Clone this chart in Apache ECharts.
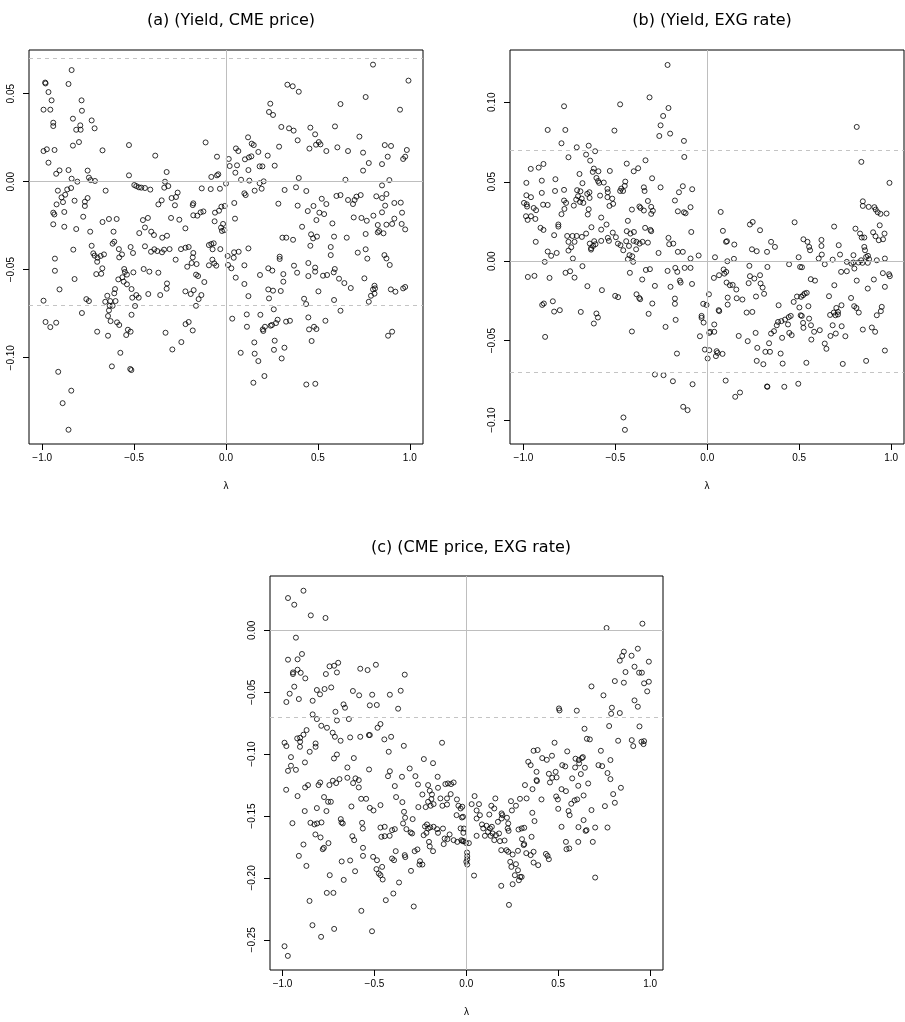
<!DOCTYPE html>
<html>
<head>
<meta charset="utf-8">
<script src="https://cdn.jsdelivr.net/npm/echarts@6/dist/echarts.min.js"></script>
<style>
  html, body { margin: 0; padding: 0; background: #fff; }
  #main { width: 905px; height: 1022px; }
</style>
</head>
<body>
<div id="main"></div>
<script>
// titles of the three panels
var panelTitles = ["(a) (Yield, CME price)", "(b) (Yield, EXG rate)", "(c) (CME price, EXG rate)"];

// tick labels
var xTicks = [-1, -0.5, 0, 0.5, 1];
var yTicksA = [-0.10, -0.05, 0, 0.05];
var yTicksB = [-0.10, -0.05, 0, 0.05, 0.10];
var yTicksC = [-0.25, -0.20, -0.15, -0.10, -0.05, 0];

// dashed reference levels
var bandUpper = 0.0725;
var bandLower = -0.0725;

// (a) lambda vs value
var pointsA = [
[-0.840,0.0634],[-0.984,0.0563],[-0.982,0.0558],[-0.857,0.0555],[-0.966,0.0509],[-0.949,0.0462],[-0.786,0.0462],[-0.993,0.0409],[-0.956,0.0409],[-0.784,0.0403],[-0.940,0.0335],[-0.940,0.0316],[-0.833,0.0358],[-0.793,0.0320],[-0.815,0.0295],[-0.791,0.0295],[-0.731,0.0348],[-0.715,0.0303],[-0.833,0.0205],[-0.800,0.0225],[-0.993,0.0174],[-0.975,0.0184],[-0.933,0.0180],[-0.966,0.0108],[-0.924,0.0045],[-0.906,0.0064],[-0.857,0.0066],[-0.840,0.0017],[-0.809,0.0000],[-0.753,0.0063],[-0.746,0.0023],[-0.737,0.0009],[-0.713,0.0004],[-0.672,0.0178],[-0.655,-0.0051],[-0.528,0.0208],[-0.528,0.0036],[-0.499,-0.0019],[-0.488,-0.0025],[-0.474,-0.0032],[-0.461,-0.0034],[-0.441,-0.0036],[-0.412,-0.0045],[-0.385,0.0148],[-0.323,0.0055],[-0.332,0.0000],[-0.336,-0.0034],[-0.314,-0.0025],[-0.111,0.0223],[-0.049,0.0142],[-0.080,0.0027],[-0.049,0.0036],[-0.042,0.0042],[-0.132,-0.0038],[-0.083,-0.0042],[-0.033,-0.0040],[-0.915,-0.0051],[-0.864,-0.0044],[-0.895,-0.0089],[-0.824,-0.0108],[-0.887,-0.0116],[-0.922,-0.0129],[-0.875,-0.0074],[-0.843,-0.0036],[-0.753,-0.0093],[-0.768,-0.0114],[-0.768,-0.0138],[-0.940,-0.0176],[-0.934,-0.0186],[-0.880,-0.0172],[-0.777,-0.0199],[-0.940,-0.0242],[-0.672,-0.0229],[-0.637,-0.0212],[-0.595,-0.0212],[-0.368,-0.0129],[-0.350,-0.0106],[-0.296,-0.0093],[-0.272,-0.0087],[-0.263,-0.0062],[-0.278,-0.0134],[-0.299,-0.0206],[-0.254,-0.0216],[-0.452,-0.0218],[-0.425,-0.0206],[-0.178,-0.0123],[-0.181,-0.0133],[-0.178,-0.0191],[-0.156,-0.0193],[-0.138,-0.0174],[-0.123,-0.0169],[-0.060,-0.0176],[-0.038,-0.0165],[-0.062,-0.0225],
[0.800,0.0665],[0.993,0.0574],[0.334,0.0551],[0.363,0.0542],[0.396,0.0511],[0.760,0.0481],[0.623,0.0441],[0.241,0.0443],[0.234,0.0396],[0.256,0.0379],[0.947,0.0409],[0.301,0.0311],[0.343,0.0303],[0.368,0.0290],[0.459,0.0307],[0.593,0.0314],[0.726,0.0256],[0.485,0.0269],[0.390,0.0235],[0.289,0.0199],[0.454,0.0188],[0.490,0.0210],[0.505,0.0225],[0.514,0.0212],[0.546,0.0174],[0.606,0.0195],[0.664,0.0174],[0.746,0.0165],[0.864,0.0208],[0.898,0.0203],[0.880,0.0142],[0.849,0.0100],[0.777,0.0106],[0.746,0.0063],[0.984,0.0180],[0.975,0.0142],[0.964,0.0129],[0.120,0.0252],[0.140,0.0216],[0.151,0.0208],[0.054,0.0189],[0.067,0.0174],[0.103,0.0127],[0.125,0.0138],[0.138,0.0144],[0.176,0.0169],[0.227,0.0148],[0.183,0.0087],[0.198,0.0087],[0.265,0.0091],[0.015,0.0129],[0.020,0.0089],[0.060,0.0093],[0.051,0.0051],[0.122,0.0066],[0.082,0.0011],[0.127,0.0006],[0.183,-0.0009],[0.205,0.0002],[0.194,-0.0040],[0.156,-0.0051],[0.396,0.0021],[0.650,0.0011],[0.889,0.0009],[0.849,-0.0021],[0.000,-0.0011],[0.100,-0.0066],[0.107,-0.0076],[0.045,-0.0121],[-0.025,-0.0142],[-0.007,-0.0138],[0.049,-0.0210],[-0.016,-0.0240],[0.319,-0.0047],[0.381,-0.0032],[0.437,-0.0053],[0.285,-0.0125],[0.390,-0.0136],[0.445,-0.0167],[0.476,-0.0138],[0.521,-0.0097],[0.546,-0.0127],[0.508,-0.0176],[0.534,-0.0184],[0.492,-0.0218],[0.579,-0.0237],[0.601,-0.0081],[0.623,-0.0076],[0.664,-0.0104],[0.691,-0.0127],[0.700,-0.0104],[0.710,-0.0085],[0.733,-0.0076],[0.695,-0.0203],[0.737,-0.0206],[0.766,-0.0222],[0.802,-0.0193],[0.818,-0.0083],[0.849,-0.0093],[0.873,-0.0070],[0.866,-0.0136],[0.916,-0.0121],[0.951,-0.0119],[0.849,-0.0174],[0.958,-0.0176],[0.916,-0.0210],[0.904,-0.0240],[0.873,-0.0244],[0.826,-0.0246],[0.956,-0.0240],
[-0.880,-0.0256],[-0.815,-0.0269],[-0.739,-0.0284],[-0.612,-0.0284],[-0.472,-0.0292],[-0.441,-0.0260],[-0.407,-0.0284],[-0.392,-0.0303],[-0.347,-0.0318],[-0.321,-0.0307],[-0.221,-0.0265],[-0.027,-0.0261],[-0.022,-0.0280],[-0.831,-0.0386],[-0.931,-0.0437],[-0.931,-0.0506],[-0.824,-0.0553],[-0.906,-0.0612],[-0.993,-0.0676],[-0.731,-0.0364],[-0.722,-0.0407],[-0.715,-0.0420],[-0.699,-0.0432],[-0.701,-0.0455],[-0.682,-0.0422],[-0.664,-0.0413],[-0.673,-0.0492],[-0.706,-0.0525],[-0.679,-0.0523],[-0.617,-0.0352],[-0.608,-0.0341],[-0.583,-0.0383],[-0.566,-0.0413],[-0.581,-0.0430],[-0.519,-0.0371],[-0.506,-0.0405],[-0.554,-0.0496],[-0.550,-0.0513],[-0.539,-0.0528],[-0.564,-0.0543],[-0.586,-0.0555],[-0.504,-0.0515],[-0.557,-0.0568],[-0.539,-0.0583],[-0.514,-0.0610],[-0.510,-0.0659],[-0.488,-0.0644],[-0.475,-0.0659],[-0.495,-0.0706],[-0.514,-0.0756],[-0.604,-0.0610],[-0.608,-0.0634],[-0.646,-0.0648],[-0.657,-0.0682],[-0.630,-0.0678],[-0.601,-0.0678],[-0.633,-0.0705],[-0.617,-0.0705],[-0.637,-0.0731],[-0.642,-0.0763],[-0.628,-0.0792],[-0.593,-0.0799],[-0.581,-0.0814],[-0.760,-0.0667],[-0.746,-0.0678],[-0.784,-0.0746],[-0.701,-0.0852],[-0.642,-0.0875],[-0.534,-0.0841],[-0.519,-0.0852],[-0.543,-0.0871],[-0.575,-0.0972],[-0.621,-0.1049],[-0.521,-0.1064],[-0.515,-0.1070],[-0.448,-0.0496],[-0.417,-0.0511],[-0.368,-0.0517],[-0.423,-0.0638],[-0.358,-0.0644],[-0.321,-0.0578],[-0.323,-0.0608],[-0.441,-0.0367],[-0.390,-0.0384],[-0.374,-0.0394],[-0.348,-0.0401],[-0.337,-0.0386],[-0.307,-0.0383],[-0.408,-0.0398],[-0.274,-0.0443],[-0.245,-0.0383],[-0.220,-0.0375],[-0.203,-0.0371],[-0.178,-0.0405],[-0.181,-0.0430],[-0.187,-0.0462],[-0.211,-0.0483],[-0.160,-0.0468],[-0.163,-0.0528],[-0.152,-0.0536],[-0.118,-0.0570],[-0.221,-0.0623],[-0.192,-0.0638],[-0.176,-0.0616],[-0.134,-0.0644],[-0.149,-0.0667],[-0.163,-0.0705],[-0.220,-0.0809],[-0.203,-0.0797],[-0.181,-0.0845],[-0.329,-0.0858],[-0.243,-0.0911],[-0.292,-0.0953],[-0.093,-0.0360],[-0.080,-0.0354],[-0.067,-0.0350],[-0.073,-0.0384],[-0.031,-0.0383],[-0.074,-0.0443],[-0.093,-0.0475],[-0.064,-0.0464],[-0.053,-0.0477],[-0.913,-0.1080],[-0.842,-0.1187],[-0.889,-0.1258],[-0.857,-0.1409],[-0.982,-0.0797],[-0.956,-0.0826],[-0.924,-0.0801],
[-0.009,-0.0275],[0.009,-0.0422],[0.044,-0.0401],[0.069,-0.0398],[0.042,-0.0432],[0.011,-0.0473],[0.029,-0.0492],[0.122,-0.0379],[0.053,-0.0545],[0.100,-0.0475],[0.100,-0.0581],[0.122,-0.0650],[0.034,-0.0778],[0.113,-0.0754],[0.114,-0.0824],[0.185,-0.0530],[0.230,-0.0492],[0.252,-0.0505],[0.292,-0.0426],[0.292,-0.0439],[0.312,-0.0525],[0.312,-0.0568],[0.230,-0.0612],[0.256,-0.0619],[0.234,-0.0663],[0.298,-0.0621],[0.187,-0.0756],[0.260,-0.0725],[0.281,-0.0784],[0.272,-0.0803],[0.250,-0.0814],[0.243,-0.0818],[0.212,-0.0824],[0.200,-0.0839],[0.203,-0.0848],[0.327,-0.0795],[0.348,-0.0790],[0.154,-0.0913],[0.265,-0.0903],[0.080,-0.0972],[0.156,-0.0977],[0.176,-0.1019],[0.261,-0.0955],[0.318,-0.0943],[0.303,-0.1004],[0.209,-0.1104],[0.149,-0.1142],[0.437,-0.1152],[0.486,-0.1148],[0.307,-0.0318],[0.328,-0.0318],[0.365,-0.0330],[0.414,-0.0256],[0.463,-0.0299],[0.474,-0.0322],[0.495,-0.0312],[0.459,-0.0364],[0.370,-0.0477],[0.387,-0.0517],[0.448,-0.0462],[0.448,-0.0536],[0.485,-0.0488],[0.485,-0.0511],[0.528,-0.0534],[0.550,-0.0530],[0.503,-0.0623],[0.425,-0.0665],[0.436,-0.0695],[0.448,-0.0771],[0.452,-0.0839],[0.479,-0.0824],[0.492,-0.0837],[0.466,-0.0905],[0.541,-0.0790],[0.588,-0.0312],[0.570,-0.0371],[0.570,-0.0417],[0.592,-0.0496],[0.586,-0.0515],[0.615,-0.0551],[0.644,-0.0576],[0.679,-0.0604],[0.588,-0.0672],[0.623,-0.0733],[0.657,-0.0318],[0.717,-0.0403],[0.760,-0.0384],[0.769,-0.0437],[0.760,-0.0297],[0.826,-0.0288],[0.833,-0.0280],[0.857,-0.0293],[0.975,-0.0271],[0.862,-0.0417],[0.873,-0.0436],[0.891,-0.0473],[0.753,-0.0549],[0.808,-0.0591],[0.811,-0.0606],[0.800,-0.0612],[0.789,-0.0648],[0.808,-0.0636],[0.777,-0.0682],[0.897,-0.0612],[0.922,-0.0625],[0.964,-0.0606],[0.975,-0.0598],[0.882,-0.0875],[0.904,-0.0852]
];

// (b) lambda vs value
var pointsB = [
[-0.216,0.1235],[-0.314,0.1031],[-0.211,0.0964],[-0.779,0.0975],[-0.474,0.0987],[-0.240,0.0914],[-0.254,0.0855],[-0.868,0.0826],[-0.772,0.0826],[-0.505,0.0822],[-0.202,0.0803],[-0.261,0.0788],[-0.793,0.0742],[-0.127,0.0757],[-0.710,0.0717],[-0.645,0.0727],[-0.610,0.0692],[-0.659,0.0671],[-0.637,0.0633],[-0.755,0.0654],[-0.125,0.0656],[-0.891,0.0612],[-0.917,0.0589],[-0.960,0.0581],[-0.617,0.0583],[-0.623,0.0562],[-0.592,0.0566],[-0.695,0.0549],[-0.530,0.0568],[-0.438,0.0614],[-0.376,0.0585],[-0.400,0.0566],[-0.336,0.0635],[-0.900,0.0507],[-0.984,0.0493],[-0.826,0.0516],[-0.603,0.0524],[-0.594,0.0505],[-0.588,0.0493],[-0.563,0.0495],[-0.679,0.0491],[-0.300,0.0522],[-0.446,0.0501],[-0.449,0.0474],[-0.458,0.0442],[-0.468,0.0457],[-0.474,0.0442],[-0.345,0.0465],[-0.341,0.0442],[-0.254,0.0465],[-0.082,0.0453],[-0.154,0.0434],[-0.133,0.0472],[-0.828,0.0442],[-0.779,0.0449],[-0.900,0.0430],[-0.984,0.0415],[-0.959,0.0403],[-0.997,0.0367],[-0.982,0.0358],[-0.980,0.0344],[-0.944,0.0335],[-0.931,0.0321],[-0.986,0.0283],[-0.977,0.0260],[-0.959,0.0283],[-0.935,0.0266],[-0.893,0.0356],[-0.868,0.0354],[-0.779,0.0382],[-0.768,0.0367],[-0.777,0.0329],[-0.793,0.0296],[-0.708,0.0447],[-0.690,0.0440],[-0.703,0.0409],[-0.713,0.0388],[-0.692,0.0373],[-0.674,0.0367],[-0.683,0.0394],[-0.653,0.0424],[-0.640,0.0398],[-0.641,0.0434],[-0.726,0.0350],[-0.650,0.0294],[-0.645,0.0327],[-0.583,0.0413],[-0.543,0.0455],[-0.541,0.0434],[-0.543,0.0403],[-0.517,0.0394],[-0.512,0.0361],[-0.532,0.0348],[-0.410,0.0325],[-0.432,0.0254],[-0.577,0.0275],[-0.369,0.0344],[-0.363,0.0335],[-0.345,0.0319],[-0.305,0.0342],[-0.296,0.0317],[-0.305,0.0298],[-0.323,0.0379],[-0.176,0.0382],[-0.160,0.0314],[-0.127,0.0308],[-0.118,0.0302],[-0.091,0.0340],[-0.810,0.0231],[-0.810,0.0218],[-0.630,0.0214],[-0.548,0.0231],[-0.577,0.0199],[-0.338,0.0210],[-0.309,0.0197],[-0.305,0.0189],[-0.514,0.0180],[-0.438,0.0189],[-0.418,0.0174],[-0.399,0.0184],
[0.813,0.0845],[0.838,0.0625],[0.991,0.0493],[0.073,0.0310],[0.846,0.0377],[0.846,0.0348],[0.878,0.0342],[0.909,0.0340],[0.916,0.0325],[0.927,0.0308],[0.942,0.0298],[0.975,0.0300],[0.232,0.0231],[0.247,0.0247],[0.287,0.0195],[0.475,0.0245],[0.690,0.0218],[0.085,0.0191],[0.938,0.0226],[0.806,0.0205],[0.831,0.0174],[0.902,0.0182],[0.964,0.0174],
[-0.907,0.0210],[-0.891,0.0197],[-0.933,0.0122],[-0.833,0.0164],[-0.868,0.0061],[-0.849,0.0034],[-0.819,0.0052],[-0.884,-0.0004],[-0.976,-0.0099],[-0.940,-0.0092],[-0.858,-0.0105],[-0.898,-0.0275],[-0.889,-0.0266],[-0.840,-0.0252],[-0.833,-0.0317],[-0.802,-0.0308],[-0.882,-0.0476],[-0.762,0.0159],[-0.733,0.0159],[-0.710,0.0159],[-0.682,0.0153],[-0.659,0.0174],[-0.755,0.0122],[-0.722,0.0122],[-0.740,0.0088],[-0.755,0.0067],[-0.731,0.0017],[-0.771,-0.0073],[-0.746,-0.0063],[-0.722,-0.0103],[-0.679,-0.0031],[-0.652,-0.0157],[-0.688,-0.0319],[-0.639,0.0111],[-0.632,0.0073],[-0.621,0.0096],[-0.615,0.0126],[-0.608,0.0107],[-0.632,0.0082],[-0.577,0.0128],[-0.541,0.0147],[-0.535,0.0128],[-0.497,0.0151],[-0.486,0.0111],[-0.472,0.0101],[-0.457,0.0069],[-0.441,0.0126],[-0.426,0.0096],[-0.401,0.0128],[-0.385,0.0122],[-0.368,0.0111],[-0.352,0.0122],[-0.323,0.0117],[-0.432,0.0013],[-0.423,0.0038],[-0.403,-0.0004],[-0.408,0.0031],[-0.387,0.0075],[-0.421,-0.0073],[-0.354,-0.0115],[-0.334,-0.0055],[-0.312,-0.0050],[-0.285,-0.0155],[-0.265,0.0052],[-0.211,0.0147],[-0.185,0.0111],[-0.207,0.0107],[-0.160,0.0059],[-0.133,0.0059],[-0.091,0.0017],[-0.087,0.0184],[-0.216,-0.0061],[-0.174,-0.0042],[-0.163,-0.0067],[-0.123,-0.0042],[-0.091,-0.0042],[-0.200,-0.0161],[-0.149,-0.0122],[-0.145,-0.0134],[-0.083,-0.0143],[-0.573,-0.0182],[-0.501,-0.0218],[-0.485,-0.0226],[-0.385,-0.0208],[-0.370,-0.0231],[-0.365,-0.0239],[-0.299,-0.0266],[-0.319,-0.0331],[-0.176,-0.0235],[-0.176,-0.0268],[-0.172,-0.0369],[-0.227,-0.0413],[-0.603,-0.0329],[-0.595,-0.0354],[-0.617,-0.0392],[-0.410,-0.0442],[-0.165,-0.0581],[-0.285,-0.0713],[-0.238,-0.0717],[-0.187,-0.0755],[-0.080,-0.0774],[-0.131,-0.0916],[-0.107,-0.0937],[-0.456,-0.0983],[-0.448,-0.1061],
[-0.047,0.0036],[0.102,0.0122],[0.147,0.0105],[0.107,0.0126],[0.243,0.0075],[0.269,0.0063],[0.347,0.0122],[0.368,0.0090],[0.325,0.0059],[0.042,0.0025],[0.109,0.0000],[0.145,0.0015],[0.229,-0.0029],[0.327,-0.0036],[0.445,-0.0019],[0.497,0.0025],[0.505,-0.0036],[0.515,-0.0038],[0.523,0.0138],[0.545,0.0122],[0.554,0.0090],[0.559,0.0069],[0.621,0.0134],[0.621,0.0096],[0.606,0.0017],[0.623,0.0042],[0.639,-0.0019],[0.682,0.0010],[0.715,0.0101],[0.722,0.0042],[0.759,-0.0004],[0.784,-0.0015],[0.795,0.0038],[0.822,-0.0008],[0.837,0.0006],[0.844,-0.0010],[0.864,0.0027],[0.873,-0.0010],[0.922,0.0006],[0.966,0.0017],[0.840,0.0149],[0.854,0.0149],[0.854,0.0090],[0.858,0.0069],[0.874,0.0034],[0.880,0.0013],[0.915,0.0157],[0.933,0.0132],[0.956,0.0138],[0.036,-0.0105],[0.064,-0.0088],[0.093,-0.0078],[0.089,-0.0052],[0.103,-0.0067],[0.232,-0.0094],[0.256,-0.0109],[0.287,-0.0088],[0.225,-0.0138],[0.290,-0.0140],[0.301,-0.0166],[0.309,-0.0205],[0.265,-0.0222],[0.105,-0.0134],[0.123,-0.0151],[0.138,-0.0149],[0.158,-0.0178],[0.111,-0.0229],[0.111,-0.0273],[0.160,-0.0233],[0.191,-0.0241],[0.009,-0.0208],[-0.022,-0.0268],[-0.004,-0.0275],[0.062,-0.0308],[0.065,-0.0314],[-0.031,-0.0344],[-0.031,-0.0356],[-0.020,-0.0386],[0.038,-0.0398],[0.038,-0.0444],[0.015,-0.0444],[0.011,-0.0451],[-0.040,-0.0472],[-0.013,-0.0556],[0.011,-0.0560],[0.002,-0.0612],[0.051,-0.0566],[0.056,-0.0577],[0.047,-0.0597],[0.083,-0.0583],[0.171,-0.0470],[0.214,-0.0323],[0.245,-0.0319],[0.220,-0.0503],[0.263,-0.0451],[0.272,-0.0545],[0.316,-0.0570],[0.341,-0.0570],[0.336,-0.0516],[0.269,-0.0627],[0.305,-0.0648],[0.399,-0.0581],[0.410,-0.0644],[0.388,-0.0277],[0.347,-0.0455],[0.363,-0.0440],[0.378,-0.0403],[0.385,-0.0382],[0.403,-0.0377],[0.423,-0.0367],[0.443,-0.0352],[0.454,-0.0344],[0.439,-0.0398],[0.446,-0.0451],[0.459,-0.0465],[0.407,-0.0482],[0.470,-0.0256],[0.488,-0.0222],[0.510,-0.0224],[0.521,-0.0214],[0.530,-0.0203],[0.541,-0.0199],[0.550,-0.0283],[0.501,-0.0291],[0.508,-0.0340],[0.514,-0.0344],[0.554,-0.0361],[0.521,-0.0388],[0.523,-0.0419],[0.564,-0.0403],[0.581,-0.0444],[0.566,-0.0493],[0.612,-0.0434],[0.539,-0.0639],[0.563,-0.0113],[0.586,-0.0122],[0.639,-0.0518],[0.648,-0.0551],[0.662,-0.0220],[0.691,-0.0151],[0.668,-0.0338],[0.688,-0.0323],[0.697,-0.0340],[0.702,-0.0294],[0.711,-0.0319],[0.711,-0.0335],[0.730,-0.0277],[0.682,-0.0403],[0.699,-0.0455],[0.670,-0.0470],[0.731,-0.0409],[0.751,-0.0472],[0.728,-0.0067],[0.759,-0.0063],[0.800,-0.0046],[0.795,-0.0008],[0.813,-0.0122],[0.782,-0.0231],[0.799,-0.0283],[0.811,-0.0294],[0.824,-0.0323],[0.737,-0.0646],[0.846,-0.0430],[0.873,-0.0172],[0.864,-0.0627],[0.906,-0.0115],[0.895,-0.0417],[0.913,-0.0444],[0.922,-0.0340],[0.944,-0.0314],[0.949,-0.0287],[0.966,-0.0161],[0.955,-0.0075],[0.989,-0.0082],[0.993,-0.0094],[0.966,-0.0562],[0.100,-0.0751],[0.152,-0.0853],[0.178,-0.0826],[0.325,-0.0788],[0.327,-0.0790],[0.419,-0.0790],[0.495,-0.0771]
];

// (c) lambda vs value
var pointsC = [
[-0.886,0.0320],[-0.970,0.0261],[-0.936,0.0207],[-0.846,0.0121],[-0.766,0.0100],[-0.927,-0.0059],[-0.894,-0.0191],[-0.918,-0.0234],[-0.970,-0.0237],[-0.943,-0.0340],[-0.943,-0.0353],[-0.918,-0.0318],[-0.901,-0.0343],[-0.876,-0.0388],[-0.744,-0.0291],[-0.719,-0.0286],[-0.697,-0.0262],[-0.704,-0.0340],[-0.764,-0.0353],[-0.577,-0.0310],[-0.537,-0.0321],[-0.492,-0.0278],[-0.335,-0.0358],[-0.936,-0.0455],[-0.961,-0.0512],[-0.979,-0.0579],[-0.911,-0.0555],[-0.836,-0.0569],[-0.813,-0.0482],[-0.796,-0.0517],[-0.771,-0.0474],[-0.735,-0.0461],[-0.617,-0.0490],[-0.583,-0.0525],[-0.512,-0.0520],[-0.416,-0.0520],[-0.357,-0.0488],[-0.668,-0.0598],[-0.660,-0.0625],[-0.712,-0.0658],[-0.525,-0.0606],[-0.487,-0.0603],[-0.371,-0.0633],[-0.836,-0.0679],[-0.813,-0.0717],[-0.704,-0.0728],[-0.639,-0.0717],[-0.789,-0.0771],[-0.758,-0.0787],[-0.869,-0.0806],[-0.886,-0.0843],[-0.904,-0.0868],[-0.920,-0.0873],[-0.727,-0.0827],[-0.715,-0.0860],[-0.684,-0.0892],[-0.632,-0.0865],[-0.577,-0.0860],[-0.530,-0.0846],[-0.525,-0.0846],[-0.483,-0.0787],[-0.467,-0.0757],[-0.446,-0.0881],[-0.409,-0.0860],[-0.340,-0.0933],[-0.132,-0.0908],[-0.989,-0.0908],[-0.979,-0.0935],[-0.904,-0.0900],[-0.905,-0.0941],[-0.820,-0.0914],[-0.820,-0.0941],[-0.852,-0.0981],[-0.954,-0.1024],[-0.878,-0.1067],[-0.954,-0.1094],[-0.970,-0.1135],[-0.927,-0.1127],[-0.704,-0.1003],[-0.720,-0.1035],[-0.612,-0.1032],[-0.647,-0.1108],[-0.529,-0.1124],[-0.422,-0.0981],[-0.231,-0.1040],[-0.181,-0.1073],[-0.416,-0.1138],[-0.308,-0.1116],
[0.958,0.0054],[0.763,0.0019],[0.933,-0.0148],[0.857,-0.0172],[0.848,-0.0207],[0.835,-0.0245],[0.899,-0.0205],[0.993,-0.0253],[0.915,-0.0294],[0.940,-0.0342],[0.955,-0.0342],[0.866,-0.0337],[0.808,-0.0410],[0.857,-0.0423],[0.967,-0.0428],[0.993,-0.0415],[0.984,-0.0493],[0.681,-0.0453],[0.746,-0.0525],[0.915,-0.0566],[0.933,-0.0617],[0.792,-0.0625],[0.788,-0.0674],[0.835,-0.0668],[0.504,-0.0631],[0.507,-0.0647],[0.601,-0.0649],[0.643,-0.0795],[0.777,-0.0773],[0.942,-0.0776],[0.656,-0.0876],[0.672,-0.0881],[0.826,-0.0892],[0.900,-0.0887],[0.908,-0.0935],[0.953,-0.0900],[0.964,-0.0919],[0.967,-0.0895],[0.480,-0.0908],[0.366,-0.0973],[0.388,-0.0967],[0.549,-0.0978],[0.732,-0.0973],[0.413,-0.1032],[0.438,-0.1046],[0.466,-0.1013],[0.337,-0.1062],[0.350,-0.1089],[0.594,-0.1037],[0.612,-0.1048],[0.629,-0.1032],[0.634,-0.1024],[0.614,-0.1075],[0.522,-0.1089],[0.538,-0.1099],[0.592,-0.1108],[0.645,-0.1110],[0.719,-0.1089],[0.739,-0.1097],[0.784,-0.1048],[0.382,-0.1143],[0.449,-0.1159],[0.486,-0.1143],[0.623,-0.1161],[0.768,-0.1153],
[-0.980,-0.1288],[-0.918,-0.1339],[-0.877,-0.1269],[-0.861,-0.1250],[-0.804,-0.1250],[-0.795,-0.1229],[-0.745,-0.1250],[-0.726,-0.1215],[-0.708,-0.1234],[-0.690,-0.1202],[-0.647,-0.1191],[-0.603,-0.1196],[-0.585,-0.1210],[-0.616,-0.1234],[-0.585,-0.1269],[-0.572,-0.1361],[-0.545,-0.1361],[-0.525,-0.1434],[-0.505,-0.1455],[-0.467,-0.1412],[-0.426,-0.1178],[-0.389,-0.1258],[-0.382,-0.1347],[-0.350,-0.1183],[-0.277,-0.1178],[-0.263,-0.1245],[-0.239,-0.1326],[-0.208,-0.1250],[-0.199,-0.1296],[-0.187,-0.1326],[-0.190,-0.1363],[-0.208,-0.1385],[-0.221,-0.1428],[-0.261,-0.1428],[-0.194,-0.1417],[-0.178,-0.1404],[-0.156,-0.1183],[-0.154,-0.1272],[-0.141,-0.1358],[-0.130,-0.1417],[-0.105,-0.1407],[-0.114,-0.1242],[-0.100,-0.1237],[-0.083,-0.1242],[-0.069,-0.1229],[-0.085,-0.1323],[-0.105,-0.1358],[-0.051,-0.1366],[-0.043,-0.1417],[-0.053,-0.1493],[-0.024,-0.1512],[-0.348,-0.1388],[-0.339,-0.1466],[-0.333,-0.1514],[-0.344,-0.1560],[-0.326,-0.1606],[-0.292,-0.1525],[-0.303,-0.1633],[-0.295,-0.1641],[-0.225,-0.1584],[-0.214,-0.1568],[-0.208,-0.1601],[-0.196,-0.1592],[-0.178,-0.1587],[-0.159,-0.1606],[-0.232,-0.1655],[-0.217,-0.1636],[-0.203,-0.1709],[-0.181,-0.1784],[-0.199,-0.1746],[-0.154,-0.1636],[-0.127,-0.1601],[-0.118,-0.1682],[-0.123,-0.1727],[-0.103,-0.1687],[-0.091,-0.1649],[-0.069,-0.1695],[-0.049,-0.1709],[-0.020,-0.1703],[-0.013,-0.1601],[-0.281,-0.1784],[-0.266,-0.1770],[-0.252,-0.1865],[-0.239,-0.1892],[-0.255,-0.1892],[-0.301,-0.1943],[-0.335,-0.1816],[-0.332,-0.1832],[-0.384,-0.1784],[-0.404,-0.1843],[-0.393,-0.1857],[-0.467,-0.1593],[-0.444,-0.1587],[-0.462,-0.1668],[-0.444,-0.1663],[-0.417,-0.1660],[-0.404,-0.1614],[-0.389,-0.1606],[-0.486,-0.1857],[-0.458,-0.1911],[-0.489,-0.1929],[-0.476,-0.1965],[-0.467,-0.1978],[-0.455,-0.2013],[-0.366,-0.2037],[-0.397,-0.2126],[-0.438,-0.2180],[-0.507,-0.1830],[-0.286,-0.2231],[-0.571,-0.2266],[-0.513,-0.2431],[-0.562,-0.1757],[-0.562,-0.1822],[-0.563,-0.1601],[-0.567,-0.1555],[-0.620,-0.1663],[-0.610,-0.1695],[-0.625,-0.1423],[-0.605,-0.1946],[-0.632,-0.1859],[-0.678,-0.1867],[-0.667,-0.2016],[-0.683,-0.1525],[-0.679,-0.1552],[-0.672,-0.1560],[-0.743,-0.1978],[-0.759,-0.2121],[-0.723,-0.2121],[-0.750,-0.1719],[-0.775,-0.1757],[-0.781,-0.1768],[-0.793,-0.1673],[-0.821,-0.1649],[-0.848,-0.1555],[-0.826,-0.1568],[-0.812,-0.1560],[-0.788,-0.1552],[-0.813,-0.1436],[-0.761,-0.1460],[-0.752,-0.1385],[-0.737,-0.1385],[-0.774,-0.1347],[-0.946,-0.1558],[-0.886,-0.1730],[-0.911,-0.1822],[-0.870,-0.1903],[-0.853,-0.2186],[-0.837,-0.2382],[-0.790,-0.2476],[-0.719,-0.2412],[-0.989,-0.2552],[-0.971,-0.2630],[-0.879,-0.1460],
[-0.031,-0.1439],[-0.022,-0.1425],[-0.018,-0.1506],[-0.031,-0.1600],[-0.016,-0.1636],[-0.027,-0.1695],[-0.013,-0.1703],[-0.002,-0.1717],[0.014,-0.1719],[0.004,-0.1795],[0.005,-0.1824],[0.005,-0.1849],[0.000,-0.1870],[0.005,-0.1892],[0.029,-0.1404],[0.045,-0.1339],[0.069,-0.1404],[0.056,-0.1455],[0.056,-0.1520],[0.074,-0.1493],[0.042,-0.1981],[0.056,-0.1660],[0.085,-0.1568],[0.092,-0.1600],[0.110,-0.1579],[0.101,-0.1660],[0.129,-0.1600],[0.139,-0.1587],[0.118,-0.1628],[0.132,-0.1660],[0.143,-0.1641],[0.125,-0.1488],[0.136,-0.1417],[0.158,-0.1358],[0.152,-0.1439],[0.172,-0.1547],[0.192,-0.1479],[0.196,-0.1493],[0.192,-0.1520],[0.221,-0.1514],[0.228,-0.1560],[0.225,-0.1600],[0.230,-0.1620],[0.161,-0.1655],[0.178,-0.1641],[0.152,-0.1695],[0.183,-0.1703],[0.208,-0.1698],[0.243,-0.1380],[0.248,-0.1455],[0.270,-0.1417],[0.292,-0.1361],[0.328,-0.1358],[0.284,-0.1609],[0.301,-0.1600],[0.315,-0.1595],[0.303,-0.1687],[0.315,-0.1727],[0.312,-0.1735],[0.190,-0.1776],[0.219,-0.1776],[0.228,-0.1789],[0.252,-0.1811],[0.281,-0.1781],[0.326,-0.1800],[0.350,-0.1816],[0.366,-0.1789],[0.239,-0.1870],[0.245,-0.1911],[0.270,-0.1889],[0.281,-0.1938],[0.264,-0.1978],[0.293,-0.1992],[0.286,-0.2019],[0.301,-0.1992],[0.366,-0.1876],[0.391,-0.1897],[0.190,-0.2064],[0.252,-0.2051],[0.232,-0.2218],[0.319,-0.1250],[0.360,-0.1283],[0.384,-0.1218],[0.382,-0.1210],[0.359,-0.1474],[0.371,-0.1541],[0.355,-0.1668],[0.409,-0.1366],[0.433,-0.1806],[0.442,-0.1822],[0.449,-0.1849],[0.455,-0.1229],[0.467,-0.1191],[0.491,-0.1188],[0.489,-0.1342],[0.498,-0.1366],[0.500,-0.1442],[0.518,-0.1283],[0.542,-0.1299],[0.518,-0.1587],[0.542,-0.1709],[0.545,-0.1768],[0.560,-0.1762],[0.556,-0.1460],[0.562,-0.1493],[0.571,-0.1401],[0.589,-0.1374],[0.603,-0.1366],[0.576,-0.1196],[0.609,-0.1256],[0.638,-0.1334],[0.638,-0.1533],[0.610,-0.1590],[0.654,-0.1614],[0.649,-0.1620],[0.609,-0.1709],[0.663,-0.1237],[0.681,-0.1452],[0.688,-0.1709],[0.701,-0.1593],[0.701,-0.1997],[0.768,-0.1593],[0.754,-0.1420],[0.799,-0.1323],[0.808,-0.1393],[0.784,-0.1202],[0.841,-0.1272]
];

var chart = echarts.init(document.getElementById("main"), null, { renderer: "canvas" });

var tickFont = "Liberation Sans";
function fmtX(v) {
  var s = Math.abs(v).toFixed(1);
  return v < -1e-9 ? "\u2212" + s : s;
}
function fmtY(v) {
  var s = Math.abs(v).toFixed(2);
  return v < -1e-9 ? "\u2212" + s : s;
}

// one panel = grid + axes + scatter series
var panels = [
  { grid: { left: 29, top: 50, width: 394, height: 394 }, xr: [-1.072, 1.072], yr: [-0.149, 0.0748], yt: yTicksA, pts: pointsA, upper: true },
  { grid: { left: 510, top: 50, width: 394, height: 394 }, xr: [-1.073, 1.070], yr: [-0.115, 0.1329], yt: yTicksB, pts: pointsB, upper: true },
  { grid: { left: 270, top: 576, width: 393, height: 394 }, xr: [-1.068, 1.070], yr: [-0.2744, 0.0439], yt: yTicksC, pts: pointsC, upper: false }
];

var grids = [], xAxes = [], yAxes = [], series = [];
panels.forEach(function (p, i) {
  grids.push(Object.assign({ show: true, borderColor: "#000", borderWidth: 1, backgroundColor: "#fff", outerBoundsMode: "none", containLabel: false }, p.grid));
  xAxes.push({
    gridIndex: i, type: "value", min: p.xr[0], max: p.xr[1], position: "bottom",
    axisLine: { show: false, onZero: false }, splitLine: { show: false },
    axisTick: { show: true, customValues: xTicks, length: 6, lineStyle: { color: "#000" } },
    axisLabel: { customValues: xTicks, formatter: fmtX, margin: 9, fontSize: 10, color: "#000", fontFamily: tickFont },
    name: "λ", nameLocation: "middle", nameGap: 37,
    nameTextStyle: { fontSize: 10, color: "#000", fontFamily: tickFont }
  });
  yAxes.push({
    gridIndex: i, type: "value", min: p.yr[0], max: p.yr[1], position: "left",
    axisLine: { show: false, onZero: false }, splitLine: { show: false },
    axisTick: { show: true, customValues: p.yt, length: 6, lineStyle: { color: "#000" } },
    axisLabel: { customValues: p.yt, formatter: fmtY, rotate: 90, margin: 13, fontSize: 10, color: "#000", fontFamily: tickFont }
  });
  var lines = [
    { yAxis: 0, lineStyle: { type: "solid", color: "#bebebe", width: 1 } },
    { xAxis: 0, lineStyle: { type: "solid", color: "#bebebe", width: 1 } },
    { yAxis: bandLower, lineStyle: { type: [4, 4], color: "#c4c4c4", width: 1 } }
  ];
  if (p.upper) lines.push({ yAxis: bandUpper, lineStyle: { type: [4, 4], color: "#c4c4c4", width: 1 } });
  series.push({
    type: "scatter", xAxisIndex: i, yAxisIndex: i,
    data: p.pts, symbol: "circle", symbolSize: 5,
    itemStyle: { color: "rgba(0,0,0,0)", borderColor: "#000", borderWidth: 1 },
    emphasis: { disabled: true },
    markLine: { silent: true, symbol: ["none", "none"], label: { show: false }, animation: false, data: lines }
  });
});

var titleStyle = { fontFamily: "DejaVu Sans", fontSize: 16, fontWeight: "normal", color: "#000" };
chart.setOption({
  animation: false,
  backgroundColor: "#fff",
  title: [
    { text: panelTitles[0], left: 226, top: 8, textAlign: "center", textStyle: titleStyle },
    { text: panelTitles[1], left: 707, top: 8, textAlign: "center", textStyle: titleStyle },
    { text: panelTitles[2], left: 466, top: 535, textAlign: "center", textStyle: titleStyle }
  ],
  grid: grids,
  xAxis: xAxes,
  yAxis: yAxes,
  series: series
});
</script>
</body>
</html>
